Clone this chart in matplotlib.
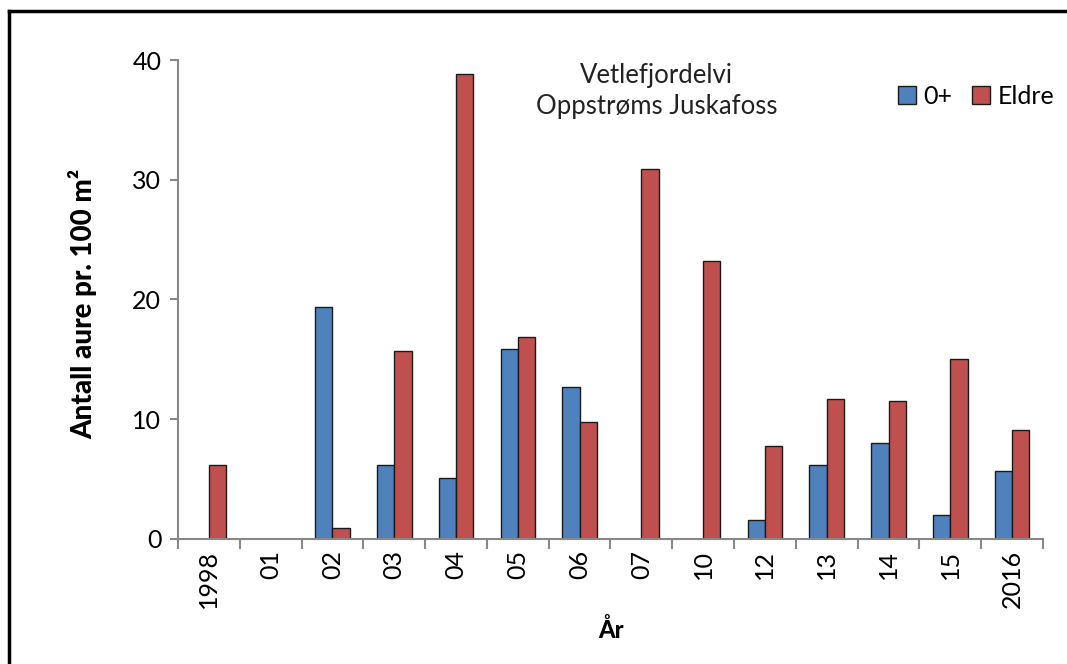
import numpy as np
import matplotlib.pyplot as plt
from matplotlib.lines import Line2D

# data
years = ["1998", "01", "02", "03", "04", "05", "06", "07", "10", "12", "13", "14", "15", "2016"]
yngel = [np.nan, np.nan, 19.4, 6.2, 5.1, 15.9, 12.7, np.nan, np.nan, 1.6, 6.2, 8.0, 2.0, 5.7]
eldre = [6.2, np.nan, 0.9, 15.7, 38.8, 16.9, 9.8, 30.9, 23.2, 7.8, 11.7, 11.5, 15.0, 9.1]

plt.rcParams['font.family'] = ['Lato', 'DejaVu Sans']

fig = plt.figure(figsize=(10.67, 6.64), dpi=100)
ax = fig.add_axes([0.1668, 0.1883, 0.8107, 0.7213])

x = np.arange(len(years))
w = 0.28
ax.bar(x - w / 2, yngel, w, color="#4F81BD", edgecolor="#1a1a1a", linewidth=1, label="0+")
ax.bar(x + w / 2, eldre, w, color="#C0504D", edgecolor="#1a1a1a", linewidth=1, label="Eldre")

ax.set_xlim(-0.5, len(years) - 0.5)
ax.set_ylim(0, 40)
ax.set_yticks([0, 10, 20, 30, 40])
ax.tick_params(axis="y", labelsize=18, length=6, color="#888888", width=1.5, pad=6)

# category ticks between groups, labels at centres
ax.set_xticks(np.arange(len(years) + 1) - 0.5)
ax.set_xticklabels([])
ax.set_xticks(x, minor=True)
ax.set_xticklabels(years, minor=True, rotation=90, fontsize=18)
ax.tick_params(axis="x", which="major", length=7, color="#888888", width=1.5)
ax.tick_params(axis="x", which="minor", length=0, pad=8)

for s in ["top", "right"]:
    ax.spines[s].set_visible(False)
for s in ["left", "bottom"]:
    ax.spines[s].set_color("#888888")
    ax.spines[s].set_linewidth(1.5)

ax.set_ylabel("Antall aure pr. 100 m²", fontsize=20, fontweight="black")
ax.yaxis.set_label_coords(-0.093, 0.49)
ax.set_xlabel("År", fontsize=17, fontweight="black")
ax.xaxis.set_label_coords(0.5, -0.165)

ax.text(0.553, 0.993, "Vetlefjordelvi\nOppstrøms Juskafoss", transform=ax.transAxes,
        ha="center", va="top", fontsize=18.5, color="#222222", linespacing=1.3)

ax.legend(loc="upper right", bbox_to_anchor=(1.039, 0.995), ncol=2, frameon=False, fontsize=18,
          handlelength=0.7, handleheight=0.7, handletextpad=0.3, columnspacing=0.8)

# outer frame (left and top visible in the crop)
fig.add_artist(Line2D([0.0085, 0.0085], [0, 0.984], color="black", lw=2.5, transform=fig.transFigure))
fig.add_artist(Line2D([0.0085, 1.0], [0.984, 0.984], color="black", lw=2.5, transform=fig.transFigure))

fig.savefig("out.png", dpi=100)
